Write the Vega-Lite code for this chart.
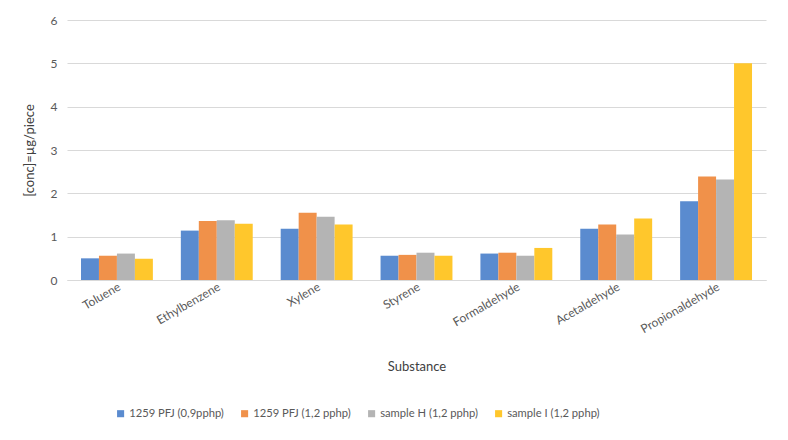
{
  "$schema": "https://vega.github.io/schema/vega-lite/v6.json",
  "width": 699,
  "height": 260,
  "autosize": {"type": "none"},
  "padding": {"left": 67, "top": 20, "right": 22, "bottom": 160},
  "background": "white",
  "config": {
    "font": "Lato",
    "view": {"stroke": null},
    "axis": {"labelFont": "Lato", "titleFont": "Lato", "labelColor": "#595959", "titleColor": "#404040", "labelFontSize": 12, "titleFontSize": 13, "titleFontWeight": "normal"}
  },
  "data": {
    "values": [
      {"substance": "Toluene", "series": "1259 PFJ (0,9pphp)", "value": 0.50},
      {"substance": "Toluene", "series": "1259 PFJ (1,2 pphp)", "value": 0.56},
      {"substance": "Toluene", "series": "sample H (1,2 pphp)", "value": 0.61},
      {"substance": "Toluene", "series": "sample I (1,2 pphp)", "value": 0.49},
      {"substance": "Ethylbenzene", "series": "1259 PFJ (0,9pphp)", "value": 1.14},
      {"substance": "Ethylbenzene", "series": "1259 PFJ (1,2 pphp)", "value": 1.36},
      {"substance": "Ethylbenzene", "series": "sample H (1,2 pphp)", "value": 1.38},
      {"substance": "Ethylbenzene", "series": "sample I (1,2 pphp)", "value": 1.30},
      {"substance": "Xylene", "series": "1259 PFJ (0,9pphp)", "value": 1.18},
      {"substance": "Xylene", "series": "1259 PFJ (1,2 pphp)", "value": 1.55},
      {"substance": "Xylene", "series": "sample H (1,2 pphp)", "value": 1.46},
      {"substance": "Xylene", "series": "sample I (1,2 pphp)", "value": 1.28},
      {"substance": "Styrene", "series": "1259 PFJ (0,9pphp)", "value": 0.56},
      {"substance": "Styrene", "series": "1259 PFJ (1,2 pphp)", "value": 0.58},
      {"substance": "Styrene", "series": "sample H (1,2 pphp)", "value": 0.63},
      {"substance": "Styrene", "series": "sample I (1,2 pphp)", "value": 0.56},
      {"substance": "Formaldehyde", "series": "1259 PFJ (0,9pphp)", "value": 0.61},
      {"substance": "Formaldehyde", "series": "1259 PFJ (1,2 pphp)", "value": 0.63},
      {"substance": "Formaldehyde", "series": "sample H (1,2 pphp)", "value": 0.56},
      {"substance": "Formaldehyde", "series": "sample I (1,2 pphp)", "value": 0.74},
      {"substance": "Acetaldehyde", "series": "1259 PFJ (0,9pphp)", "value": 1.18},
      {"substance": "Acetaldehyde", "series": "1259 PFJ (1,2 pphp)", "value": 1.28},
      {"substance": "Acetaldehyde", "series": "sample H (1,2 pphp)", "value": 1.05},
      {"substance": "Acetaldehyde", "series": "sample I (1,2 pphp)", "value": 1.42},
      {"substance": "Propionaldehyde", "series": "1259 PFJ (0,9pphp)", "value": 1.82},
      {"substance": "Propionaldehyde", "series": "1259 PFJ (1,2 pphp)", "value": 2.39},
      {"substance": "Propionaldehyde", "series": "sample H (1,2 pphp)", "value": 2.32},
      {"substance": "Propionaldehyde", "series": "sample I (1,2 pphp)", "value": 5.0}
    ]
  },
  "mark": {"type": "bar"},
  "encoding": {
    "x": {
      "field": "substance", "type": "nominal", "sort": null,
      "scale": {"paddingInner": 0.28, "paddingOuter": 0.14},
      "axis": {"title": "Substance", "labelAngle": -30, "labelAlign": "right", "labelBaseline": "top", "labelPadding": 1, "ticks": false, "domainColor": "#d9d9d9", "titleY": 80}
    },
    "xOffset": {"field": "series", "type": "nominal", "sort": null},
    "y": {
      "field": "value", "type": "quantitative",
      "scale": {"domain": [0, 6]},
      "axis": {"title": "[conc]=µg/piece", "values": [0, 1, 2, 3, 4, 5, 6], "domain": false, "ticks": false, "gridColor": "#d9d9d9", "labelPadding": 10, "titlePadding": 14}
    },
    "color": {
      "field": "series", "type": "nominal", "sort": null,
      "scale": {"range": ["#5a8bcf", "#f0914a", "#b4b4b4", "#ffc72c"]},
      "legend": {"title": null, "orient": "none", "legendX": 48, "legendY": 388, "direction": "horizontal", "symbolType": "square", "symbolSize": 50, "labelFontSize": 11.2, "labelColor": "#595959", "labelFont": "Lato", "columnPadding": 15, "symbolOffset": 0, "labelOffset": 3}
    }
  }
}
